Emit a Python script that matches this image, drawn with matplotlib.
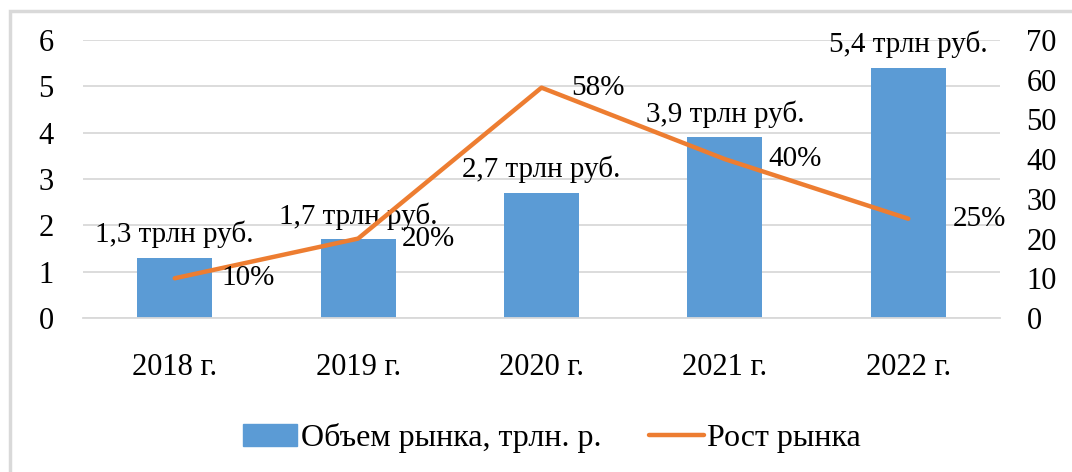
import numpy as np
import matplotlib.pyplot as plt
from matplotlib.patches import Rectangle

plt.rcParams['font.family'] = ['Liberation Serif', 'DejaVu Serif']

years = ['2018 г.', '2019 г.', '2020 г.', '2021 г.', '2022 г.']
volume = [1.3, 1.7, 2.7, 3.9, 5.4]
growth = [10, 20, 58, 40, 25]
vol_labels = ['1,3 трлн руб.', '1,7 трлн руб.', '2,7 трлн руб.', '3,9 трлн руб.', '5,4 трлн руб.']
growth_labels = ['10%', '20%', '58%', '40%', '25%']
# label offsets to the right of the line points (x in categories, y in %)
lab_dx = [0.255, 0.24, 0.16, 0.235, 0.24]
lab_dy = [0, 0, 0, 0, 0]

W, H = 1072, 472
fig = plt.figure(figsize=(W / 100, H / 100), dpi=100)
fig.patches.append(Rectangle((10 / W, -0.1), 1.2, (H - 11) / H + 0.1, transform=fig.transFigure,
                             fill=False, edgecolor='#d9d9d9', linewidth=2.5))

ax = fig.add_axes([83 / W, 1 - 318 / H, (1000 - 83) / W, (318 - 40) / H])
x = np.arange(len(years))
ax.bar(x, volume, width=0.41, color='#5B9BD5', zorder=2)
ax.set_ylim(0, 6)
ax.set_xlim(-0.5, 4.5)
ax.set_yticks(range(7))
ax.grid(axis='y', color='#d9d9d9', linewidth=1.3, zorder=0)
for s in ['top', 'right', 'left']:
    ax.spines[s].set_visible(False)
ax.spines['bottom'].set_color('#d9d9d9')
ax.spines['bottom'].set_linewidth(1.3)
ax.set_xticks(x)
ax.set_xticklabels(years)
ax.tick_params(axis='both', length=0, labelsize=22)
ax.tick_params(axis='y', pad=21)
ax.tick_params(axis='x', pad=25)
for xi, v, lab in zip(x, volume, vol_labels):
    ax.text(xi, v + 0.5, lab, ha='center', va='center', fontsize=21)

ax2 = ax.twinx()
ax2.set_ylim(0, 70)
ax2.set_yticks(range(0, 71, 10))
for s in ax2.spines.values():
    s.set_visible(False)
ax2.tick_params(axis='y', length=0, labelsize=22, pad=19)
line, = ax2.plot(x, growth, color='#ED7D31', linewidth=3.2, solid_capstyle='round', zorder=3)
for xi, g, lab, dx, dy in zip(x, growth, growth_labels, lab_dx, lab_dy):
    ax2.text(xi + dx, g + dy, lab, ha='left', va='center', fontsize=21)

bar_handle = Rectangle((0, 0), 1, 1, color='#5B9BD5')
fig.legend([bar_handle, line], ['Объем рынка, трлн. р.', 'Рост рынка'],
           loc='center', bbox_to_anchor=(552 / W, 1 - 438 / H), ncol=2, frameon=False,
           fontsize=23, handlelength=1.7, handletextpad=0.12, columnspacing=1.5)

fig.savefig('out.png', dpi=100)
